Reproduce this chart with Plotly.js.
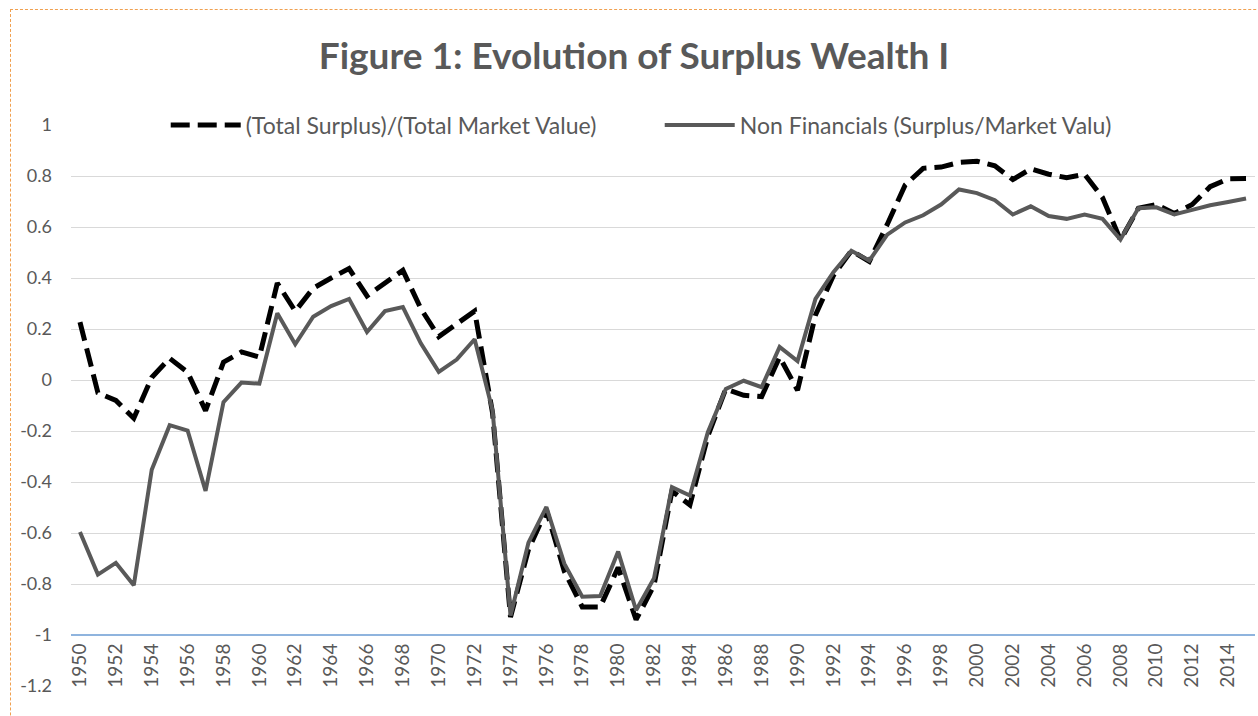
<!DOCTYPE html>
<html>
<head>
<meta charset="utf-8">
<script src="https://cdn.plot.ly/plotly-3.0.1.min.js"></script>
<style>
  html, body { margin: 0; padding: 0; background: #ffffff; overflow: hidden; }
  #chart { width: 1258px; height: 716px; position: absolute; left: 0; top: 0; }
  #frame { position: absolute; left: 10px; top: 9px; width: 1400px; height: 900px;
           border-left: 1px dashed #F0A050; border-top: 1px dashed #F0A050;
           pointer-events: none; }
</style>
</head>
<body>
<div id="chart"></div>
<div id="frame"></div>
<script>
// ---- data ----
const years = [
  1950,1951,1952,1953,1954,1955,1956,1957,1958,1959,
  1960,1961,1962,1963,1964,1965,1966,1967,1968,1969,
  1970,1971,1972,1973,1974,1975,1976,1977,1978,1979,
  1980,1981,1982,1983,1984,1985,1986,1987,1988,1989,
  1990,1991,1992,1993,1994,1995,1996,1997,1998,1999,
  2000,2001,2002,2003,2004,2005,2006,2007,2008,2009,
  2010,2011,2012,2013,2014,2015
];
const totalSurplusRatio = [
  0.227,-0.05,-0.08,-0.15,0.01,0.085,0.03,-0.12,0.07,0.11,
  0.09,0.38,0.27,0.36,0.40,0.437,0.33,0.378,0.43,0.28,
  0.17,0.22,0.27,-0.13,-0.93,-0.665,-0.51,-0.75,-0.89,-0.89,
  -0.735,-0.94,-0.805,-0.435,-0.49,-0.22,-0.035,-0.06,-0.065,0.09,
  -0.04,0.255,0.41,0.507,0.465,0.61,0.765,0.83,0.835,0.853,
  0.858,0.84,0.786,0.828,0.807,0.793,0.807,0.716,0.549,0.674,
  0.688,0.653,0.688,0.758,0.789,0.79
];
const nonFinancialsRatio = [
  -0.596,-0.763,-0.717,-0.805,-0.352,-0.177,-0.198,-0.435,-0.087,-0.01,
  -0.014,0.262,0.14,0.248,0.29,0.318,0.188,0.27,0.286,0.144,
  0.032,0.08,0.16,-0.12,-0.924,-0.638,-0.498,-0.72,-0.85,-0.847,
  -0.673,-0.903,-0.777,-0.42,-0.453,-0.205,-0.035,-0.003,-0.028,0.13,
  0.074,0.318,0.423,0.507,0.468,0.57,0.618,0.646,0.688,0.747,
  0.733,0.705,0.649,0.681,0.643,0.632,0.649,0.632,0.551,0.674,
  0.677,0.649,0.667,0.685,0.698,0.712
];
const seriesNames = [
  "(Total Surplus)/(Total Market Value)",
  "Non Financials (Surplus/Market Valu)"
];
const xTickYears = [1950,1952,1954,1956,1958,1960,1962,1964,1966,1968,1970,1972,
  1974,1976,1978,1980,1982,1984,1986,1988,1990,1992,1994,1996,1998,2000,2002,
  2004,2006,2008,2010,2012,2014];
const xTickLabels = xTickYears.map(String);
const yTickVals = [1,0.8,0.6,0.4,0.2,0,-0.2,-0.4,-0.6,-0.8,-1,-1.2];
const yTickLabels = ["1","0.8","0.6","0.4","0.2","0","-0.2","-0.4","-0.6","-0.8","-1","-1.2"];
const chartTitle = "Figure 1: Evolution of Surplus Wealth I";

// ---- chart ----
const fontFam = "Lato, 'Open Sans', sans-serif";
const textGray = "#595959";
const yMin = -1.2, yMax = 1, xAxisCross = -1;

const traces = [
  {
    x: years, y: totalSurplusRatio, name: seriesNames[0],
    type: "scatter", mode: "lines",
    line: { color: "#000000", width: 5, dash: "19px,8px" }
  },
  {
    x: years, y: nonFinancialsRatio, name: seriesNames[1],
    type: "scatter", mode: "lines",
    line: { color: "#595959", width: 4 }
  }
];

const layout = {
  width: 1258, height: 716,
  paper_bgcolor: "#ffffff", plot_bgcolor: "#ffffff",
  margin: { l: 71, r: 3, t: 125, b: 30 },
  showlegend: true,
  title: {
    text: chartTitle,
    font: { family: fontFam, size: 37, color: textGray, weight: "bold" },
    xref: "container", x: 0.504, xanchor: "center",
    yref: "container", y: 1 - 56/716, yanchor: "middle"
  },
  legend: {
    orientation: "h", x: 0.08, xanchor: "left", y: 1, yanchor: "middle",
    bgcolor: "rgba(0,0,0,0)", itemwidth: 70,
    entrywidth: 409, entrywidthmode: "pixels",
    font: { family: fontFam, size: 23, color: textGray }
  },
  xaxis: {
    range: [1949.5, 2015.5],
    anchor: "free", position: (xAxisCross - yMin) / (yMax - yMin),
    showline: true, linecolor: "#8FB4DE", linewidth: 2,
    showgrid: false, zeroline: false, ticks: "",
    tickmode: "array", tickvals: xTickYears, ticktext: xTickLabels,
    tickangle: -90,
    tickfont: { family: fontFam, size: 19, color: textGray }
  },
  yaxis: {
    range: [yMin, yMax],
    tickmode: "array", tickvals: yTickVals, ticktext: yTickLabels,
    showgrid: true, gridcolor: "#D9D9D9", gridwidth: 1,
    zeroline: false, showline: false, ticks: "",
    ticklabelstandoff: 18,
    tickfont: { family: fontFam, size: 18, color: textGray }
  }
};

Plotly.newPlot("chart", traces, layout, { displayModeBar: false, staticPlot: true });
</script>
</body>
</html>
